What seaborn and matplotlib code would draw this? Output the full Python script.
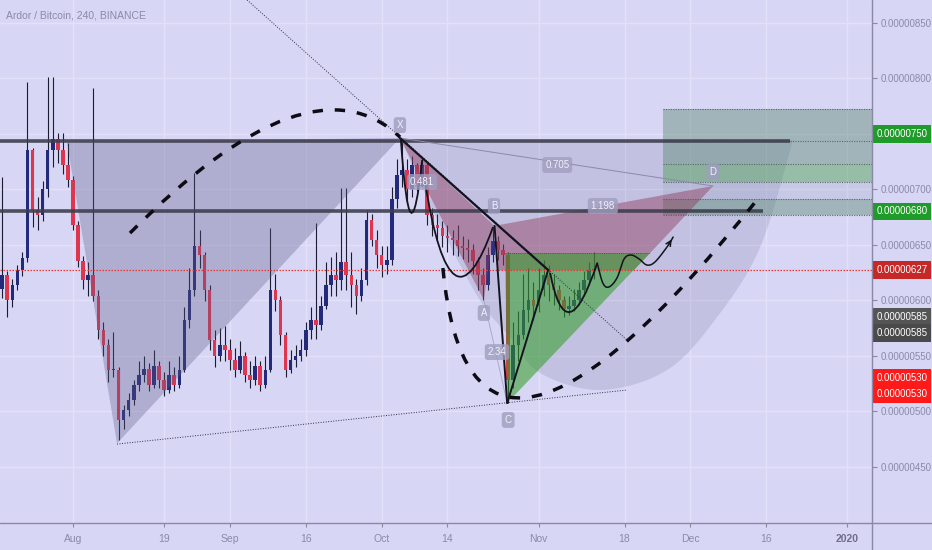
"""Ardor / Bitcoin 240 (BINANCE) - candle chart with harmonic pattern drawings"""

import numpy as np
import matplotlib
matplotlib.use("Agg")
import matplotlib.pyplot as plt
from matplotlib.path import Path
from matplotlib.patches import PathPatch, Polygon
from matplotlib.lines import Line2D
from matplotlib.ticker import FuncFormatter
import seaborn as sns

# ---------------- data ----------------
# x = days since 2019-08-01, price in units of 1e-8 BTC
days = np.arange(-14, 104)
first_open = 610
closes = [623, 600, 614, 627, 638, 735, 681, 677, 700, 735, 745, 735, 722, 708,
          668, 635, 618, 623, 604, 573, 560, 537, 537, 492,
          501, 510, 524, 533, 538, 524, 541, 528, 519, 533,
          524, 537, 582, 609, 649, 641, 609, 564, 550, 560,
          555, 546, 537, 550, 533, 528, 541, 524, 537, 609,
          600, 569, 537, 546, 550, 555, 573, 582, 578, 595,
          614, 623, 618, 634, 623, 614, 604, 618, 672, 654,
          641, 632, 636, 691, 713, 717, 700, 722, 703, 722,
          677, 668, 665, 658, 656, 654, 649, 647, 645, 635,
          623, 614, 641, 653, 645, 641, 528, 560, 569, 591,
          600, 595, 609, 623, 614, 609, 600, 592, 595, 600,
          609, 618, 627, 627]
highs = [711, 626, 619, 632, 643, 797, 737, 693, 707, 801, 801, 751, 751, 742,
         712, 671, 640, 634, 791, 609, 580, 565, 571, 540,
         506, 516, 528, 545, 550, 543, 555, 545, 535, 545,
         540, 550, 594, 629, 715, 663, 643, 614, 573, 575,
         577, 565, 557, 563, 553, 545, 550, 545, 550, 665,
         624, 604, 571, 555, 560, 565, 580, 594, 670, 604,
         634, 639, 643, 701, 701, 643, 619, 629, 681, 678,
         663, 649, 649, 702, 727, 746, 727, 730, 724, 729,
         724, 683, 678, 671, 668, 663, 668, 658, 655, 651,
         639, 629, 648, 666, 658, 651, 643, 580, 590, 624,
         629, 616, 629, 636, 632, 624, 614, 604, 604, 610,
         616, 626, 634, 643]
lows = [602, 585, 594, 609, 622, 634, 666, 663, 671, 693, 720, 724, 714, 702,
        663, 630, 610, 604, 599, 565, 550, 526, 531, 474,
        484, 496, 506, 518, 526, 518, 521, 521, 514, 516,
        518, 521, 535, 575, 604, 629, 599, 555, 540, 545,
        545, 537, 531, 534, 526, 521, 524, 518, 521, 535,
        590, 560, 531, 534, 540, 545, 550, 565, 565, 573,
        592, 604, 604, 609, 609, 594, 588, 599, 614, 649,
        629, 621, 624, 632, 683, 702, 688, 693, 698, 702,
        668, 658, 653, 648, 643, 641, 640, 637, 634, 624,
        609, 600, 609, 634, 636, 632, 507, 521, 545, 565,
        580, 582, 589, 604, 599, 596, 591, 585, 587, 590,
        596, 604, 614, 619]

date_ticks = [0, 18, 31, 46, 61, 74, 92, 109, 122, 137, 153]
date_labels = ['Aug', '19', 'Sep', '16', 'Oct', '14', 'Nov', '18', 'Dec', '16', '2020']
price_grid = [450, 500, 550, 600, 650, 700, 750, 800, 850]
# 750 is hidden behind its green price mark, as on the original
price_ticks = [450, 500, 550, 600, 650, 700, 800, 850]

last_price = 627
resistance_levels = [743, 680]
resistance_end = [141.7, 136.4]
target_levels = [772, 743, 723, 706.5, 691, 677]
target_start = 116.6

# harmonic pattern points (day, price)
X = (64.6, 746.1)
A = (81.2, 600.2)
B = (83.3, 667.0)
C = (85.8, 507.4)
D = (126.5, 702.9)
pattern_labels = {'X': (64.6, 757.8), 'A': (81.2, 588.5), 'B': (83.2, 684.9),
                  'C': (86.0, 492.1), 'D': (126.5, 715.5)}
ratio_labels = {'0.481': (69.0, 706.5), '0.705': (95.7, 721.8),
                '1.198': (104.7, 684.9), '2.34': (83.8, 553.3)}

# right axis price marks (value, colour)
axis_marks = [(750, '#1f9b2a'), (680, '#1f9b2a'), (627, '#c62828'),
              (585, '#555555'), (585, '#4a4a4a'), (530, '#ff1a1a'), (530, '#ff1a1a')]

# ---------------- style ----------------
BG = '#d8d6f5'
GRID = '#e3e1fa'
AXIS = '#8a88a2'
TXT = '#8c8aaa'
UP = '#232a7a'
DOWN = '#e0354f'
WICK = '#1c1c30'
GRAY = '#5d5b86'
MAUVE = '#8e3a5c'
GREEN = '#2f9d22'
INK = '#141420'

sns.set_theme(style="white", rc={"axes.facecolor": BG, "figure.facecolor": BG})
plt.rcParams['font.family'] = ['Liberation Sans', 'DejaVu Sans']


def quad_curve(p0, ctrl, p2):
    return Path([p0, ctrl, p2], [Path.MOVETO, Path.CURVE3, Path.CURVE3])


def smooth(points, n=24):
    """Catmull-Rom curve through drawing anchor points"""
    pts = np.asarray(points, float)
    ext = np.vstack([pts[0], pts, pts[-1]])
    t = np.linspace(0, 1, n, endpoint=False)[:, None]
    out = []
    for i in range(1, len(ext) - 2):
        p0, p1, p2, p3 = ext[i - 1], ext[i], ext[i + 1], ext[i + 2]
        out.append(0.5 * (2 * p1 + (-p0 + p2) * t + (2 * p0 - 5 * p1 + 4 * p2 - p3) * t ** 2
                          + (-p0 + 3 * p1 - 3 * p2 + p3) * t ** 3))
    out.append(pts[-1:])
    return np.vstack(out)


fig = plt.figure(figsize=(9.32, 5.5), dpi=100)
ax = fig.add_axes([0, 27 / 550, 872 / 932, 523 / 550])
ax.set_xlim(-14.43, 157.9)
ax.set_ylim(399.3, 870.45)
for s in ax.spines.values():
    s.set_visible(False)

# grid
ax.hlines(price_grid, -15, 160, color=GRID, lw=1, zorder=0.5)
ax.vlines(date_ticks, 390, 880, color=GRID, lw=1, zorder=0.5)

# candles
opens = np.array([first_open] + closes[:-1])
c = np.array(closes)
up = c >= opens
ax.vlines(days, lows, highs, color=WICK, lw=0.8, zorder=2)
body_low = np.minimum(opens, c)
body_h = np.maximum(np.abs(c - opens), 1.0)
ax.bar(days, body_h, bottom=body_low, width=0.7, color=np.where(up, UP, DOWN),
       linewidth=0, zorder=2.5)

# big shaded triangle (left)
ax.add_patch(Polygon([(-1.2, 742), (8.7, 471), X], closed=True, fc=GRAY, alpha=0.33,
                     ec='none', zorder=3))

# shaded bowl (arc) from X to the right
bowl_pts = [X, (72.5, 667.7), (80.4, 600.2), (86.8, 564.2), (92.3, 534.4), (104.2, 519.1),
            (117.4, 537.1), (127.3, 584.9), (135.8, 647.9), (142.3, 744.3)]
bowl = smooth(bowl_pts)
ax.add_patch(Polygon(np.vstack([bowl, [(64.6, 744.3)]]), closed=True, fc=GRAY, alpha=0.17,
                     ec='none', zorder=3))

# target zone
band_colors = ['#55866a', '#55866a', '#3f9a3f', '#8fa0b8', '#55866a']
band_alpha = [0.42, 0.42, 0.42, 0.22, 0.42]
for i in range(len(target_levels) - 1):
    ax.fill_between([target_start, 160], target_levels[i + 1], target_levels[i],
                    color=band_colors[i], alpha=band_alpha[i], lw=0, zorder=3)
ax.hlines(target_levels, target_start, 160, color='#5a6a66', lw=0.8,
          linestyles=(0, (1, 1.2)), zorder=3.2)

# XAB / BCD pattern fills
ax.add_patch(Polygon([X, A, B], closed=True, fc=MAUVE, alpha=0.45, ec='none', zorder=3.3))
ax.add_patch(Polygon([B, D, (110.9, 627.2), (83.9, 627.2)], closed=True, fc=MAUVE,
                     alpha=0.45, ec='none', zorder=3.3))
ax.add_patch(Polygon([(85.4, 642.5), (114.0, 642.5), C], closed=True, fc=GREEN,
                     alpha=0.55, ec='none', zorder=3.4))
ax.hlines(642.5, 85.4, 114.0, color='#4a5a3a', lw=0.7, linestyles=(0, (1, 1.2)), zorder=3.5)

# horizontal resistance lines
for lvl, end in zip(resistance_levels, resistance_end):
    ax.plot([-15, end], [lvl, lvl], color='#3e3f4e', lw=2.6, alpha=0.9,
            solid_capstyle='butt', zorder=4)

# last price line
ax.axhline(last_price, color='#e53935', lw=0.9, ls=(0, (1.2, 1.2)), zorder=4)

# trend lines
ax.plot([34.4, 109.7], [870.45, 563.2], color='#2e2e44', lw=0.7, ls=(0, (1, 1.6)), zorder=4)
ax.plot([X[0], 93.9], [X[1], 627.2], color=INK, lw=1.6, zorder=4.5)
ax.plot([8.7, 109.5], [470.4, 519.1], color='#2e2e44', lw=0.7, ls=(0, (1, 1.6)), zorder=4)
ax.plot([X[0], D[0]], [X[1], D[1]], color='#8c8aa8', lw=0.7, zorder=4)
ax.plot([A[0], C[0]], [A[1], C[1]], color='#a6a4c0', lw=0.6, zorder=4)
ax.plot([B[0], C[0]], [B[1], C[1]], color=INK, lw=1.4, zorder=4.5)
ax.plot([C[0], 93.9], [C[1], 627.2], color=INK, lw=1.4, zorder=4.5)

# curved sketches
for p0, ctrl, p2 in [((64.8, 744.3), (66.6, 622.7), (69.0, 726.3)),
                     ((69.6, 705.6), (74.7, 559.6), (83.0, 665.9)),
                     ((94.3, 624.5), (97.5, 549.7), (103.6, 633.5))]:
    ax.add_patch(PathPatch(quad_curve(p0, ctrl, p2), fill=False, ec=INK, lw=1.3, zorder=4.6))

wave_pts = [(103.6, 633.5), (104.7, 615.5), (105.9, 611.9), (107.5, 620.0), (108.9, 637.1),
            (110.3, 640.7), (111.9, 637.1), (113.4, 631.7), (115.0, 634.4), (117.4, 648.0),
            (118.6, 656.9)]
wave = smooth(wave_pts)
ax.plot(wave[:, 0], wave[:, 1], color=INK, lw=1.1, zorder=4.6)
ax.annotate('', xy=wave_pts[-1], xytext=wave_pts[-2],
            arrowprops=dict(arrowstyle='->', color=INK, lw=1.1, mutation_scale=9), zorder=4.6)

# big dashed curves
for p0, ctrl, p2 in [((11.26, 660.5), (46.84, 823.6), (64.62, 747.0)),
                     ((73.1, 629.0), (78.5, 365.9), (135.8, 693.9))]:
    ax.add_patch(PathPatch(quad_curve(p0, ctrl, p2), fill=False, ec='#0c0c14', lw=2.5,
                           ls=(0, (3.0, 3.4)), capstyle='butt', zorder=4.8))

# pattern labels
for name, (x, y) in list(pattern_labels.items()) + list(ratio_labels.items()):
    ax.text(x, y, name, ha='center', va='center', fontsize=7, color='#f0f0fa', zorder=6,
            bbox=dict(boxstyle='round,pad=0.3', fc='#a09ec0', ec='none', alpha=0.8))

# axes / ticks
fmt = FuncFormatter(lambda v, pos: f"{v * 1e-8:.8f}")
ax.yaxis.tick_right()
ax.set_yticks(price_ticks)
ax.yaxis.set_major_formatter(fmt)
ax.tick_params(axis='y', length=3.5, width=0.8, color=AXIS, labelcolor=TXT, labelsize=7,
               pad=2.5, right=True, left=False)
ax.set_xticks(date_ticks)
ax.set_xticklabels(date_labels)
ax.tick_params(axis='x', length=3, width=0.8, color=AXIS, labelcolor=TXT, labelsize=7.5,
               pad=5, bottom=True)
for lab in ax.get_xticklabels():
    if lab.get_text() == '2020':
        lab.set_fontweight('bold')
        lab.set_color('#6f6d8a')

fig.add_artist(Line2D([872 / 932, 872 / 932], [0, 1], color=AXIS, lw=1, transform=fig.transFigure))
fig.add_artist(Line2D([0, 1], [27 / 550, 27 / 550], color=AXIS, lw=1, transform=fig.transFigure))

# coloured price marks on the right axis
seen = {}
for val, col in axis_marks:
    k = seen.get(val, 0)
    seen[val] = k + 1
    ax.annotate(f"{val * 1e-8:.8f}", xy=(1.0, val), xycoords=ax.get_yaxis_transform(),
                xytext=(3.0, -11.8 * k), textcoords='offset points', ha='left', va='center',
                color='white', fontsize=7, annotation_clip=False, zorder=10,
                bbox=dict(boxstyle='square,pad=0.4', fc=col, ec='none'))

fig.text(6 / 932, 1 - 16 / 550, 'Ardor / Bitcoin, 240, BINANCE', color=TXT, fontsize=7.5,
         va='center', ha='left')

fig.savefig('out.png', dpi=100, facecolor=BG)
